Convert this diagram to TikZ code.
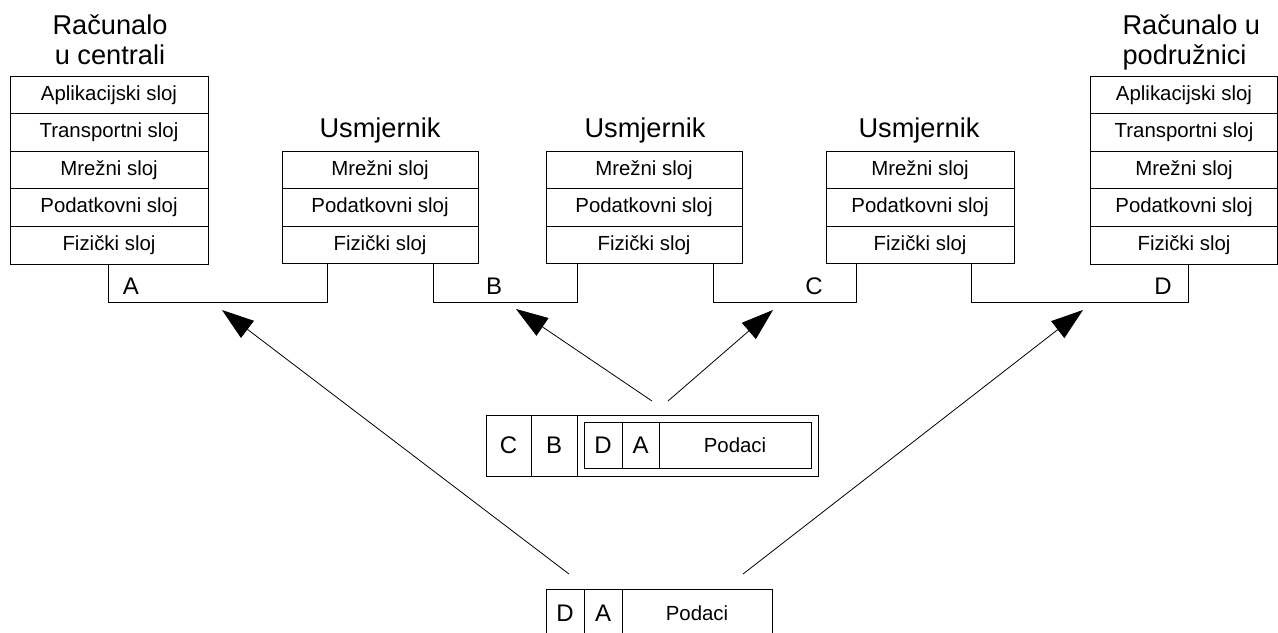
\documentclass[tikz,border=0pt]{standalone}
\usepackage{fontspec}
\setmainfont{Liberation Sans}
\usetikzlibrary{arrows.meta}

\begin{document}
\begin{tikzpicture}[x=0.75pt, y=-0.75pt, line width=0.75pt,
    sloj/.style={draw, minimum height=28.2pt, inner sep=0pt, font=\fontsize{15.3}{18}\selectfont},
    naslov/.style={inner sep=0pt, font=\fontsize{20.4}{22.5}\selectfont},
    slovo/.style={inner sep=0pt, font=\fontsize{18}{20}\selectfont},
    polje/.style={draw, inner sep=0pt},
    strelica/.style={-{Triangle[length=24pt, width=16pt]}, line width=0.6pt}]
  \useasboundingbox (0,0) rectangle (1278,632);

  % Racunalo u centrali
  \node[naslov, align=center, anchor=north] (nasA) at (110,14) {Računalo\\u centrali};
  \node[sloj, minimum width=148.5pt] (c1) at (109,94.8) {Aplikacijski sloj};
  \node[sloj, minimum width=148.5pt] (c2) at (109,132.4) {Transportni sloj};
  \node[sloj, minimum width=148.5pt] (c3) at (109,170) {Mrežni sloj};
  \node[sloj, minimum width=148.5pt] (c4) at (109,207.6) {Podatkovni sloj};
  \node[sloj, minimum width=148.5pt] (c5) at (109,245.2) {Fizički sloj};

  % Usmjernici
  \node[naslov, anchor=base] (nasU1) at (380,137) {Usmjernik};
  \node[sloj, minimum width=147pt] (u1a) at (380,169.8) {Mrežni sloj};
  \node[sloj, minimum width=147pt] (u1b) at (380,207.4) {Podatkovni sloj};
  \node[sloj, minimum width=147pt] (u1c) at (380,245) {Fizički sloj};

  \node[naslov, anchor=base] (nasU2) at (645,137) {Usmjernik};
  \node[sloj, minimum width=147pt] (u2a) at (644,169.8) {Mrežni sloj};
  \node[sloj, minimum width=147pt] (u2b) at (644,207.4) {Podatkovni sloj};
  \node[sloj, minimum width=147pt] (u2c) at (644,245) {Fizički sloj};

  \node[naslov, anchor=base] (nasU3) at (919,137) {Usmjernik};
  \node[sloj, minimum width=141pt] (u3a) at (920,169.8) {Mrežni sloj};
  \node[sloj, minimum width=141pt] (u3b) at (920,207.4) {Podatkovni sloj};
  \node[sloj, minimum width=141pt] (u3c) at (920,245) {Fizički sloj};

  % Racunalo u podruznici
  \node[naslov, align=left, anchor=north west] (nasD) at (1122,14) {Računalo u\\podružnici};
  \node[sloj, minimum width=140.25pt] (p1) at (1184,94.8) {Aplikacijski sloj};
  \node[sloj, minimum width=140.25pt] (p2) at (1184,132.4) {Transportni sloj};
  \node[sloj, minimum width=140.25pt] (p3) at (1184,170) {Mrežni sloj};
  \node[sloj, minimum width=140.25pt] (p4) at (1184,207.6) {Podatkovni sloj};
  \node[sloj, minimum width=140.25pt] (p5) at (1184,245.2) {Fizički sloj};

  % Veze A, B, C i D
  \coordinate (vezaA1) at ([xshift=-0.75pt]c5.south);
  \coordinate (vezaA2) at ([xshift=-39.75pt]u1c.south);
  \coordinate (vezaB1) at ([xshift=39.75pt]u1c.south);
  \coordinate (vezaB2) at ([xshift=-50.25pt]u2c.south);
  \coordinate (vezaC1) at ([xshift=51.75pt]u2c.south);
  \coordinate (vezaC2) at ([xshift=-48pt]u3c.south);
  \coordinate (vezaD1) at ([xshift=38.25pt]u3c.south);
  \coordinate (vezaD2) at ([xshift=3pt]p5.south);
  \draw (vezaA1) -- ++(0,38) -| (vezaA2);
  \draw (vezaB1) -- ++(0,38) -| (vezaB2);
  \draw (vezaC1) -- ++(0,38) -| (vezaC2);
  \draw (vezaD1) -- ++(0,38) -| (vezaD2);
  \node[slovo] (oznA) at (131,286) {A};
  \node[slovo] (oznB) at (494,286) {B};
  \node[slovo] (oznC) at (814,286) {C};
  \node[slovo] (oznD) at (1163,286) {D};

  % Paket izmedju usmjernika
  \node[polje, slovo, minimum width=33.75pt, minimum height=45.75pt] (pC) at (508.5,445.5) {C};
  \node[polje, slovo, minimum width=34.5pt, minimum height=45.75pt] (pB) at (554,445.5) {B};
  \node[polje, minimum width=180.75pt, minimum height=45.75pt] (pOkvir) at (697.5,445.5) {};
  \node[polje, slovo, minimum width=28.5pt, minimum height=34.5pt] (pD) at (603,445) {D};
  \node[polje, slovo, minimum width=27.75pt, minimum height=34.5pt] (pA) at (640.5,445) {A};
  \node[polje, minimum width=114pt, minimum height=34.5pt, font=\fontsize{15.3}{18}\selectfont] (pPod) at (735,445) {Podaci};

  % Paket od racunala do racunala
  \node[polje, slovo, minimum width=28.5pt, minimum height=36pt] (qD) at (565,613) {D};
  \node[polje, slovo, minimum width=28.5pt, minimum height=36pt] (qA) at (603,613) {A};
  \node[polje, minimum width=112.5pt, minimum height=36pt, font=\fontsize{15.3}{18}\selectfont] (qPod) at (697,613) {Podaci};

  % Strelice
  \coordinate (izA) at (569,574);
  \coordinate (izB) at (652,401);
  \coordinate (izC) at (668,401);
  \coordinate (izD) at (743,574);
  \coordinate (vrhA) at (222,310);
  \coordinate (vrhB) at (516,309);
  \coordinate (vrhC) at (773,310);
  \coordinate (vrhD) at (1083,310);
  \draw[strelica] (izA) -- (vrhA);
  \draw[strelica] (izB) -- (vrhB);
  \draw[strelica] (izC) -- (vrhC);
  \draw[strelica] (izD) -- (vrhD);
\end{tikzpicture}
\end{document}
